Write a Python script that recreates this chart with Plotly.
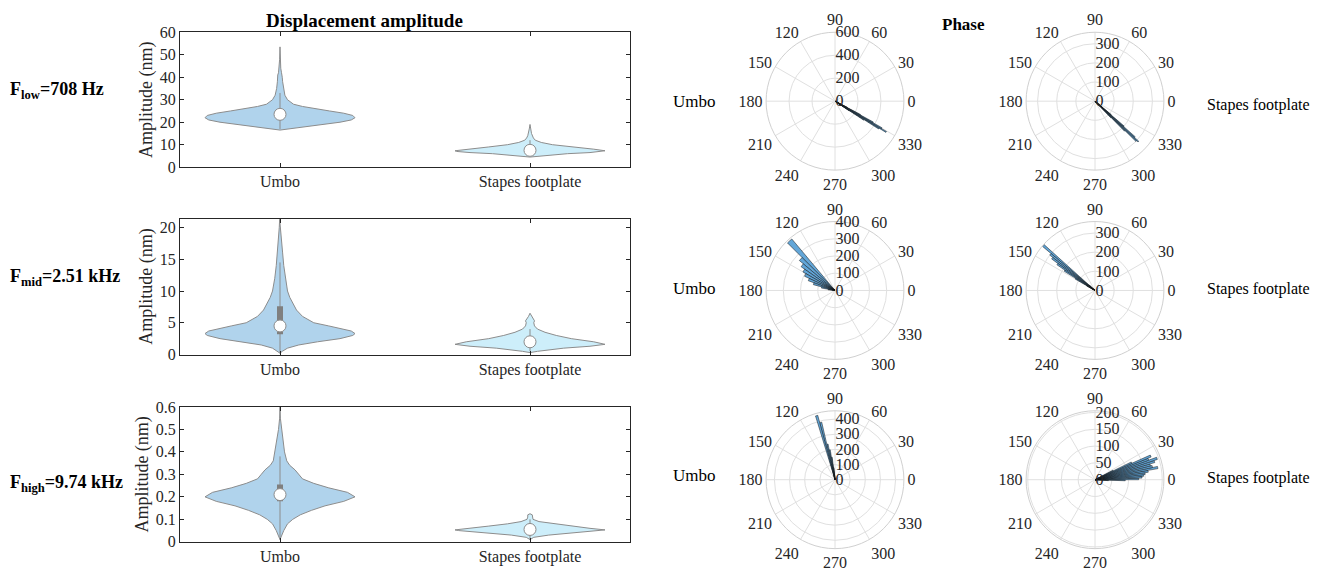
import plotly.graph_objects as go

# ---------------- DATA ----------------
categories = ["Umbo", "Stapes footplate"]
row_labels = ["F<sub>low</sub>=708 Hz", "F<sub>mid</sub>=2.51 kHz", "F<sub>high</sub>=9.74 kHz"]

# violin outlines: amplitude levels and normalised density
umbo_low_y = [16.5, 17, 18, 19, 20, 21, 22, 23, 24, 25, 26, 27, 28, 30, 32, 35, 38, 40, 41, 42, 44, 48, 53.5]
umbo_low_d = [0, 0.12, 0.3, 0.55, 0.8, 0.95, 1.0, 0.97, 0.85, 0.66, 0.46, 0.3, 0.18, 0.1, 0.065, 0.045, 0.035, 0.03, 0.03, 0.02, 0.01, 0.005, 0]
stapes_low_y = [4.5, 5, 5.5, 6, 6.5, 7, 7.3, 8, 9, 10, 11, 12, 13, 14, 15, 17, 19]
stapes_low_d = [0, 0.15, 0.3, 0.5, 0.8, 0.98, 1.0, 0.85, 0.55, 0.3, 0.15, 0.07, 0.045, 0.03, 0.02, 0.01, 0]
umbo_mid_y = [0.2, 0.5, 1, 1.5, 2, 2.5, 3, 3.3, 3.7, 4, 4.5, 5, 6, 7, 8, 9, 10, 12, 14, 16, 18, 20, 21.3]
umbo_mid_d = [0, 0.03, 0.1, 0.25, 0.5, 0.8, 0.97, 1.0, 0.95, 0.85, 0.65, 0.45, 0.3, 0.22, 0.17, 0.13, 0.1, 0.07, 0.05, 0.035, 0.02, 0.01, 0.005]
stapes_mid_y = [0.3, 0.5, 1, 1.3, 1.6, 2, 2.5, 3, 3.5, 4, 4.5, 5, 5.3, 5.7, 6, 6.5]
stapes_mid_d = [0, 0.1, 0.45, 0.8, 1.0, 0.85, 0.55, 0.35, 0.2, 0.1, 0.06, 0.05, 0.06, 0.04, 0.02, 0]
umbo_high_y = [0.01, 0.03, 0.05, 0.08, 0.1, 0.12, 0.14, 0.16, 0.18, 0.2, 0.22, 0.24, 0.26, 0.28, 0.3, 0.32, 0.34, 0.36, 0.4, 0.45, 0.48, 0.5, 0.55, 0.6]
umbo_high_d = [0, 0.02, 0.05, 0.1, 0.17, 0.27, 0.42, 0.6, 0.85, 1.0, 0.9, 0.65, 0.45, 0.3, 0.25, 0.2, 0.13, 0.09, 0.06, 0.04, 0.03, 0.02, 0.005, 0]
stapes_high_y = [0.01, 0.02, 0.03, 0.04, 0.05, 0.053, 0.06, 0.07, 0.08, 0.09, 0.1, 0.11, 0.12, 0.125]
stapes_high_d = [0, 0.05, 0.25, 0.55, 0.95, 1.0, 0.8, 0.55, 0.3, 0.12, 0.04, 0.03, 0.03, 0]

# box statistics: [whisker low, q1, median, q3, whisker high]
umbo_low_stats = [17, 22.3, 23.5, 25, 33]
stapes_low_stats = [5, 6.8, 7.5, 8.3, 12]
umbo_mid_stats = [0.2, 3.2, 4.5, 7.6, 14.5]
stapes_mid_stats = [0.5, 1.5, 2.0, 2.6, 4.0]
umbo_high_stats = [0.01, 0.18, 0.21, 0.255, 0.38]
stapes_high_stats = [0.01, 0.045, 0.055, 0.065, 0.1]

y_ranges = [[0, 60], [0, 21.4], [0, 0.6]]
y_ticks = [[0, 10, 20, 30, 40, 50, 60], [0, 5, 10, 15, 20], [0, 0.1, 0.2, 0.3, 0.4, 0.5, 0.6]]

# phase histograms: bin centres (deg) and counts
umbo_low_theta = [324, 325, 326, 327, 328, 329, 330, 331, 332, 333, 334, 335]
umbo_low_r = [20, 60, 150, 300, 450, 520, 470, 380, 250, 120, 50, 15]
stapes_low_theta = [312, 313, 314, 315, 316, 317, 318, 319, 320, 321, 322]
stapes_low_r = [15, 40, 120, 220, 300, 310, 280, 200, 110, 50, 15]
umbo_mid_theta = [132.5, 137.5, 142.5, 147.5, 152.5, 157.5, 162.5, 167.5, 172.5, 177.5]
umbo_mid_r = [390, 270, 240, 215, 195, 165, 130, 80, 40, 15]
stapes_mid_theta = [137, 139, 141, 143, 145, 147, 149, 151, 153]
stapes_mid_r = [40, 358, 300, 280, 240, 190, 120, 50, 20]
umbo_high_theta = [94, 96, 98, 100, 102, 104, 106]
umbo_high_r = [30, 80, 150, 200, 240, 390, 440]
stapes_high_theta = [-3, -1, 1, 3, 5, 7, 9, 11, 13, 15, 17, 19, 21, 23, 25, 27]
stapes_high_r = [40, 90, 130, 140, 145, 150, 160, 190, 175, 170, 185, 195, 170, 180, 120, 60]

angle_ticks = [0, 30, 60, 90, 120, 150, 180, 210, 240, 270, 300, 330]
polar_ranges = [[0, 600], [0, 360], [0, 400], [0, 360], [0, 455], [0, 205]]
polar_ticks = [[0, 200, 400, 600], [0, 100, 200, 300], [0, 100, 200, 300, 400],
               [0, 100, 200, 300], [0, 100, 200, 300, 400], [0, 50, 100, 150, 200]]

# ---------------- FIGURE ----------------
FONT = "Liberation Serif"
W, H = 1323, 578
fig = go.Figure()

violins = [
    [(umbo_low_y, umbo_low_d, umbo_low_stats), (stapes_low_y, stapes_low_d, stapes_low_stats)],
    [(umbo_mid_y, umbo_mid_d, umbo_mid_stats), (stapes_mid_y, stapes_mid_d, stapes_mid_stats)],
    [(umbo_high_y, umbo_high_d, umbo_high_stats), (stapes_high_y, stapes_high_d, stapes_high_stats)],
]
fills = ["#b0d3ec", "#cdeefa"]
HALF = 0.3

for row, pair in enumerate(violins):
    xa = "x" if row == 0 else f"x{row+1}"
    ya = "y" if row == 0 else f"y{row+1}"
    for ci, (ys, ds, st) in enumerate(pair):
        pos = ci + 1
        xs = [pos + HALF * d for d in ds] + [pos - HALF * d for d in reversed(ds)]
        yy = list(ys) + list(reversed(ys))
        fig.add_trace(go.Scatter(x=xs, y=yy, mode="lines", fill="toself", fillcolor=fills[ci],
                                 line=dict(color="#8c8c8c", width=1), xaxis=xa, yaxis=ya,
                                 showlegend=False, hoverinfo="skip"))
        fig.add_trace(go.Scatter(x=[pos, pos], y=[st[0], st[4]], mode="lines",
                                 line=dict(color="#8c8c8c", width=1), xaxis=xa, yaxis=ya,
                                 showlegend=False, hoverinfo="skip"))
        fig.add_trace(go.Scatter(x=[pos, pos], y=[st[1], st[3]], mode="lines",
                                 line=dict(color="#7f7f7f", width=6), xaxis=xa, yaxis=ya,
                                 showlegend=False, hoverinfo="skip"))
        fig.add_trace(go.Scatter(x=[pos], y=[st[2]], mode="markers",
                                 marker=dict(color="white", size=12, line=dict(color="#8c8c8c", width=1)),
                                 xaxis=xa, yaxis=ya, showlegend=False, hoverinfo="skip"))

def py(top, bottom):
    return [1 - bottom / H, 1 - top / H]

row_boxes = [(25, 164), (217, 357), (411, 550)]
axis_common = dict(showline=True, linecolor="#262626", linewidth=1, mirror="ticks", ticks="inside",
                   ticklen=4, tickcolor="#262626", showgrid=False, zeroline=False,
                   tickfont=dict(family=FONT, size=16, color="#262626"))
layout = {}
for i, (t, b) in enumerate(row_boxes):
    sfx = "" if i == 0 else str(i + 1)
    layout["xaxis" + sfx] = dict(domain=[180 / W, 630 / W], range=[0.6, 2.4], tickvals=[1, 2],
                                 ticktext=categories, anchor="y" + sfx, **axis_common)
    layout["yaxis" + sfx] = dict(domain=py(t, b), range=y_ranges[i], tickvals=y_ticks[i],
                                 anchor="x" + sfx,
                                 title=dict(text="Amplitude (nm)", font=dict(family=FONT, size=18, color="#262626"),
                                            standoff=2),
                                 **axis_common)

polar_data = [(umbo_low_theta, umbo_low_r), (stapes_low_theta, stapes_low_r),
              (umbo_mid_theta, umbo_mid_r), (stapes_mid_theta, stapes_mid_r),
              (umbo_high_theta, umbo_high_r), (stapes_high_theta, stapes_high_r)]
centers_x = [835, 1095]
centers_y = [96, 291, 486]
RAD = 71
for k, (th, rr) in enumerate(polar_data):
    row, col = divmod(k, 2)
    name = "polar" if k == 0 else f"polar{k+1}"
    width = (th[1] - th[0]) if len(th) > 1 else 2
    fig.add_trace(go.Barpolar(theta=th, r=rr, width=[width] * len(th), subplot=name,
                              marker=dict(color="#62a6d8", line=dict(color="#111111", width=0.5)),
                              showlegend=False, hoverinfo="skip"))
    cx, cy = centers_x[col], centers_y[row]
    layout[name] = dict(
        domain=dict(x=[(cx - RAD) / W, (cx + RAD) / W], y=py(cy - RAD, cy + RAD)),
        bgcolor="white",
        angularaxis=dict(direction="counterclockwise", rotation=0, tickmode="array",
                         tickvals=angle_ticks, ticktext=[str(a) for a in angle_ticks], showline=True,
                         linecolor="#d0d0d0", gridcolor="#e0e0e0", ticks="",
                         tickfont=dict(family=FONT, size=16, color="#262626")),
        radialaxis=dict(range=polar_ranges[k], tickvals=polar_ticks[k], angle=90, tickangle=90,
                        showline=False, gridcolor="#e0e0e0", ticks="",
                        tickfont=dict(family=FONT, size=16, color="#262626")),
    )

annotations = []
def ann(text, x, y, size=16, bold=False, xanchor="center"):
    annotations.append(dict(text=f"<b>{text}</b>" if bold else text, x=x / W, y=1 - y / H,
                            xref="paper", yref="paper", showarrow=False, xanchor=xanchor, yanchor="middle",
                            font=dict(family=FONT, size=size, color="black")))

ann("Displacement amplitude", 364, 13, 19, True)
ann("Phase", 963, 17, 17, True)
for i, (lbl, yy) in enumerate(zip(row_labels, [85, 278, 490])):
    ann(lbl, 8, yy, 18, True, "left")
for yy in [96, 289, 482]:
    ann("Umbo", 694, yy, 17)
for yy in [100, 290, 484]:
    ann("Stapes footplate", 1258, yy, 16)

fig.update_layout(width=W, height=H, margin=dict(l=0, r=0, t=0, b=0), plot_bgcolor="white",
                  paper_bgcolor="white", annotations=annotations, **layout)
fig.write_html("out.html")
